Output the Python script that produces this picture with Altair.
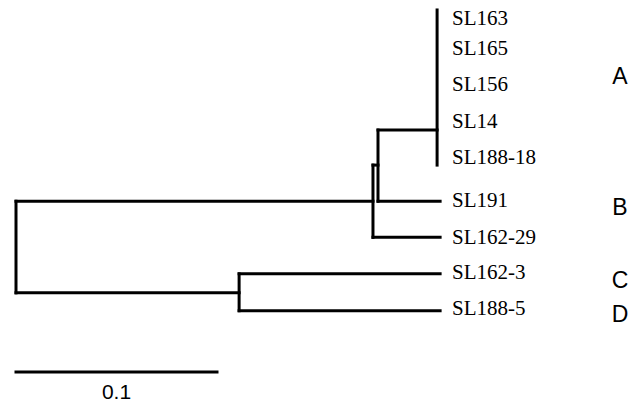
import altair as alt
import pandas as pd

# ---- tree data (distance from root, row positions) ----
node_names   = ["root", "OUT", "AB", "A", "CD",
                "SL163", "SL165", "SL156", "SL14", "SL188-18",
                "SL191", "SL162-29", "SL162-3", "SL188-5"]
node_parent  = [None, "root", "OUT", "AB", "root",
                "A", "A", "A", "A", "A",
                "AB", "OUT", "CD", "CD"]
node_dist    = [0.0, 0.1776, 0.1801, 0.2095, 0.111,
                0.2095, 0.2095, 0.2095, 0.2095, 0.2095,
                0.211, 0.211, 0.211, 0.211]
node_attach  = [6.3, 5.02, 4.03, 3.07, 7.53,
                0.0, 0.82, 1.84, 2.85, 3.84,
                5.02, 6.01, 7.01, 8.02]
node_top     = [5.02, 4.03, 3.07, -0.22, 7.01] + [None] * 9
node_bottom  = [7.53, 6.01, 5.02, 4.03, 8.02] + [None] * 9
is_leaf      = [False] * 5 + [True] * 9

leaf_label_rows = [0.02, 0.84, 1.84, 2.85, 3.84, 5.0, 6.03, 6.99, 7.97]

group_labels = ["A", "B", "C", "D"]
group_rows   = [1.62, 5.21, 7.2, 8.14]

scale_bar_len = 0.1
scale_bar_label = "0.1"
scale_bar_row = 9.70
scale_label_row = 10.27

# ---- build segments ----
segs = []
dist_of = dict(zip(node_names, node_dist))
for name, par, d, att, top, bot in zip(node_names, node_parent, node_dist,
                                       node_attach, node_top, node_bottom):
    if par is not None and abs(d - dist_of[par]) > 1e-9:
        segs.append({"x": dist_of[par], "x2": d, "y": att, "y2": att})
    if top is not None:
        segs.append({"x": d, "x2": d, "y": top, "y2": bot})
segs.append({"x": 0.0, "x2": scale_bar_len, "y": scale_bar_row, "y2": scale_bar_row})
seg_df = pd.DataFrame(segs)

leaf_names = [n for n, l in zip(node_names, is_leaf) if l]
leaf_dists = [d for d, l in zip(node_dist, is_leaf) if l]
leaf_df = pd.DataFrame({"name": leaf_names, "x": [max(leaf_dists)] * len(leaf_names),
                        "y": leaf_label_rows})

grp_df = pd.DataFrame({"name": group_labels, "y": group_rows})
sb_df = pd.DataFrame({"name": [scale_bar_label], "x": [scale_bar_len / 2],
                      "y": [scale_label_row]})

W, H = 623, 388
xs = alt.Scale(domain=[-0.00398, 0.30597])
ys = alt.Scale(domain=[-0.0548, 10.575], reverse=True)

lines = alt.Chart(seg_df).mark_rule(color="black", strokeWidth=3, strokeCap="square").encode(
    x=alt.X("x:Q", scale=xs, axis=None),
    x2="x2:Q",
    y=alt.Y("y:Q", scale=ys, axis=None),
    y2="y2:Q",
)

leaf_text = alt.Chart(leaf_df).mark_text(
    align="left", baseline="middle", dx=12, fontSize=21,
    font="Liberation Serif", color="black"
).encode(
    x=alt.X("x:Q", scale=xs, axis=None),
    y=alt.Y("y:Q", scale=ys, axis=None),
    text="name:N",
)

grp_text = alt.Chart(grp_df).mark_text(
    align="center", baseline="middle", fontSize=23,
    font="Liberation Sans", color="black"
).encode(
    x=alt.value(612),
    y=alt.Y("y:Q", scale=ys, axis=None),
    text="name:N",
)

sb_text = alt.Chart(sb_df).mark_text(
    align="center", baseline="middle", fontSize=21,
    font="Liberation Sans", color="black"
).encode(
    x=alt.X("x:Q", scale=xs, axis=None),
    y=alt.Y("y:Q", scale=ys, axis=None),
    text="name:N",
)

chart = alt.layer(lines, leaf_text, grp_text, sb_text).properties(
    width=W, height=H,
    padding={"left": 0, "top": 8, "right": 0, "bottom": 0},
    autosize="none", background="white"
).configure_view(stroke=None)

chart.save("out.html", embed_options={"renderer": "svg", "actions": False})
